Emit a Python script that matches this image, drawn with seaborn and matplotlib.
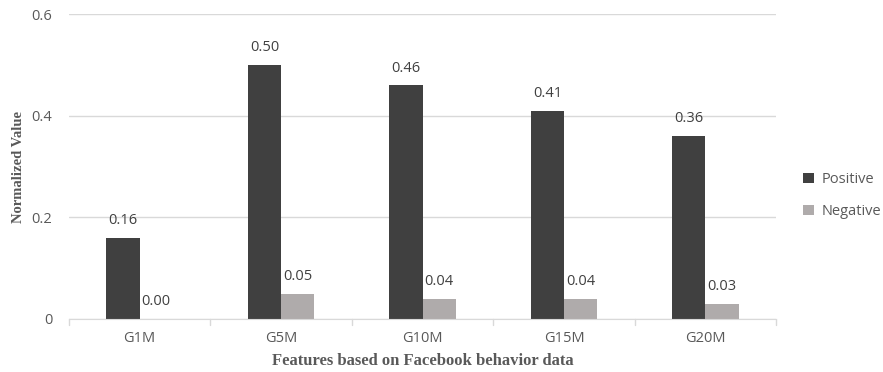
import numpy as np
import pandas as pd
import seaborn as sns
import matplotlib.pyplot as plt

features = ["G1M", "G5M", "G10M", "G15M", "G20M"]
positive = [0.16, 0.50, 0.46, 0.41, 0.36]
negative = [0.00, 0.05, 0.04, 0.04, 0.03]

df = pd.DataFrame({
    "Feature": features * 2,
    "Value": positive + negative,
    "Type": ["Positive"] * 5 + ["Negative"] * 5,
})

sns.set_style("white")
plt.rcParams['font.family'] = ['Open Sans', 'DejaVu Sans']

fig = plt.figure(figsize=(8.83, 3.72), dpi=100)
ax = fig.add_axes([0.078, 0.1425, 0.801, 0.8195])

palette = {"Positive": "#404040", "Negative": "#AFABAB"}
sns.barplot(data=df, x="Feature", y="Value", hue="Type", palette=palette,
            width=0.47, ax=ax, saturation=1, legend=True, linewidth=0)

ax.set_ylim(0, 0.6)
ax.set_yticks([0, 0.2, 0.4, 0.6])
ax.set_yticklabels(["0", "0.2", "0.4", "0.6"])
ax.yaxis.grid(True, color="#D9D9D9", linewidth=1)
ax.set_axisbelow(True)
for s in ["top", "right", "left"]:
    ax.spines[s].set_visible(False)
ax.spines["bottom"].set_color("#D9D9D9")
ax.tick_params(axis="both", colors="#595959", labelsize=10.5, length=0)
ax.tick_params(axis="y", pad=12)
ax.tick_params(axis="x", pad=9)

# category boundary ticks
for b in np.arange(-0.5, len(features), 1.0):
    ax.plot([b, b], [0, -0.012], color="#D9D9D9", lw=1, clip_on=False)
ax.set_xlim(-0.5, len(features) - 0.5)

for cont in ax.containers:
    ax.bar_label(cont, fmt="%.2f", padding=7, fontsize=10.5, color="#404040")

ax.set_xlabel("Features based on Facebook behavior data", family="Liberation Serif",
              fontweight="bold", fontsize=12, color="#595959", labelpad=5)
ax.set_ylabel("Normalized Value", family="Liberation Serif",
              fontweight="bold", fontsize=10.5, color="#595959", labelpad=5)

leg = ax.legend(loc="center left", bbox_to_anchor=(1.02, 0.405), frameon=False,
                fontsize=10.5, handlelength=0.7, handleheight=0.7, labelspacing=1.15,
                handletextpad=0.55)
for t in leg.get_texts():
    t.set_color("#595959")

fig.savefig("out.png", dpi=100)
